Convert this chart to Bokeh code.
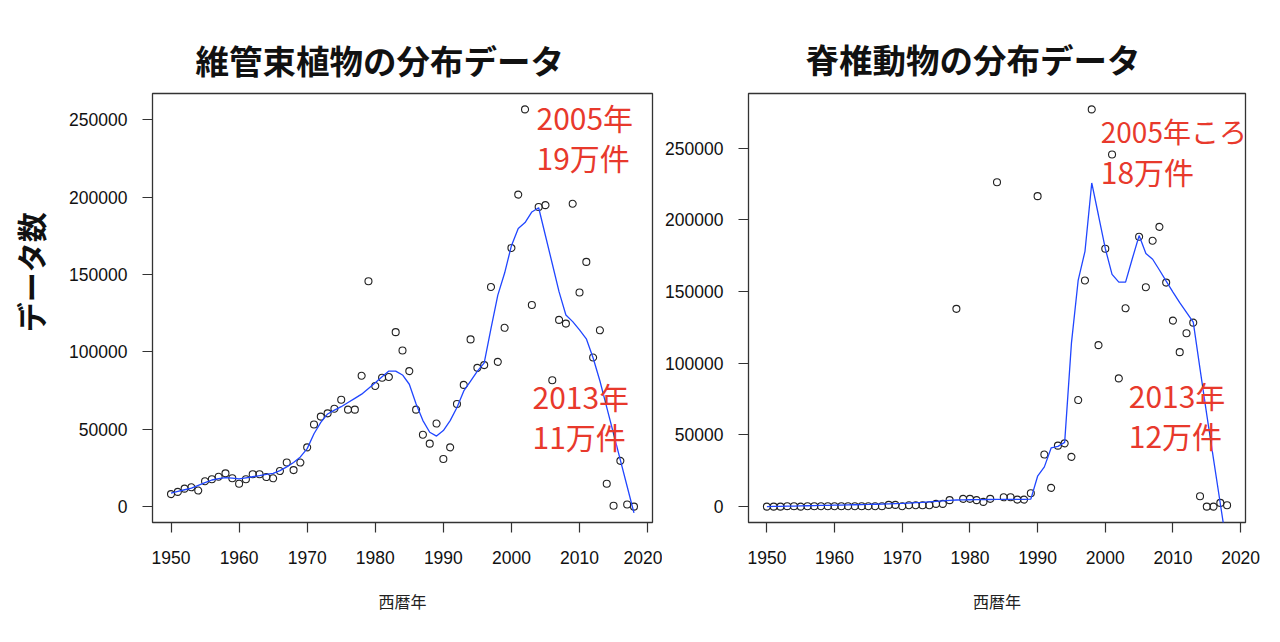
import math
from bokeh.plotting import figure
from bokeh.layouts import row
from bokeh.models import Range1d, FixedTicker, NumeralTickFormatter, Label
from bokeh.embed import file_html
from bokeh.resources import INLINE

# ---------------- data ----------------
years = list(range(1950, 2019))

plant_counts = [
    8100, 9500, 11600, 12500, 10400, 16400, 17700, 19300, 21500, 18300,
    14800, 17700, 20900, 20900, 19100, 18300, 23000, 28500, 23600, 28500,
    38300, 53100, 58200, 60300, 63300, 69100, 62700, 62700, 84600, 145700,
    78000, 83300, 83800, 112800, 100900, 87600, 62700, 46500, 40700, 53700,
    30800, 38300, 66300, 78700, 108100, 89700, 91500, 142000, 93600, 115600,
    167200, 201700, 256800, 130300, 193700, 194900, 81700, 120700, 118300, 195800,
    138400, 158200, 96400, 114000, 14800, 600, 29600, 1400, 0,
]
plant_smooth = [
    8700, 9800, 10900, 11900, 13700, 15500, 17200, 18100, 18700, 18400,
    17900, 18600, 19300, 20000, 20800, 21500, 23300, 25700, 28500, 32100,
    37500, 47100, 54500, 59900, 62400, 64600, 67300, 70000, 72700, 76400,
    80100, 84000, 87600, 87600, 85100, 79100, 66300, 55600, 48100, 45600,
    49200, 55600, 64100, 74800, 81200, 87600, 92900, 115300, 136700, 151000,
    168700, 179800, 183600, 190500, 193200, 175100, 157000, 138800, 123900, 119600,
    114300, 108500, 96100, 81200, 64100, 47100, 30000, 13000, -4100,
]
vert_counts = [
    0, 0, 0, 300, 300, 0, 300, 300, 300, 300,
    300, 300, 300, 300, 300, 300, 300, 300, 1200, 1200,
    300, 1000, 1000, 1000, 1000, 1900, 1900, 4500, 137900, 5400,
    5400, 4500, 3300, 5400, 226200, 6500, 6500, 4900, 4900, 9300,
    216500, 36300, 13100, 42500, 44100, 34700, 74300, 157700, 277000, 112600,
    179800, 245500, 89400, 138300, None, 188200, 153000, 185400, 195100, 156200,
    129700, 107700, 120900, 128300, 7200, 0, 0, 2600, 1000,
]
vert_smooth = [
    0, 100, 200, 300, 400, 500, 600, 700, 800, 900,
    1000, 1100, 1200, 1300, 1400, 1500, 1650, 1800, 1950, 2100,
    2250, 2500, 2750, 3000, 3300, 3600, 4000, 4400, 4600, 4700,
    4800, 4850, 4900, 4950, 5000, 5000, 5050, 5100, 5100, 5200,
    21200, 27700, 40900, 42000, 44800, 114000, 158000, 178000, 225700, 203000,
    180000, 162000, 156500, 156500, 173000, 189000, 176500, 172500, 165000, 157200,
    149600, 142200, 135500, 128700, 96000, 64000, 33000, 2000, -29000,
]

x_ticks = [1950, 1960, 1970, 1980, 1990, 2000, 2010, 2020]
y_ticks = [0, 50000, 100000, 150000, 200000, 250000]

plant_title = "維管束植物の分布データ"
vert_title = "脊椎動物の分布データ"
x_label = "西暦年"
y_label = "データ数"
plant_notes = ["2005年", "19万件", "2013年", "11万件"]
vert_notes = ["2005年ころ", "18万件", "2013年", "12万件"]

# ---------------- styling ----------------
RED = "#E8392C"
BLUE = "#2046FF"
INK = "#222222"
FIG_H = 622
LABEL_W = 60


def r_range(vals):
    v = [a for a in vals if a is not None]
    lo, hi = min(v), max(v)
    pad = (hi - lo) * 0.04
    return lo - pad, hi + pad


def make_panel(counts, smooth, title, title_offset, title_standoff, page_left,
               mbl, fw, mbr, mbt, fh, notes, note_pos, note_sizes):
    xs = [y for y, c in zip(years, counts) if c is not None]
    ys = [c for c in counts if c is not None]
    x0, x1 = r_range(xs)
    y0, y1 = r_range(ys)
    width = mbl + fw + mbr
    p = figure(width=width, height=FIG_H, output_backend="svg", toolbar_location=None,
               x_range=Range1d(x0, x1), y_range=Range1d(y0, y1),
               min_border_left=mbl, min_border_right=mbr, min_border_top=mbt,
               min_border_bottom=FIG_H - mbt - fh)
    p.background_fill_color = "white"
    p.border_fill_color = "white"
    p.xgrid.visible = False
    p.ygrid.visible = False
    p.outline_line_color = "#333333"
    p.outline_line_width = 1.3

    p.scatter(xs, ys, marker="circle", size=7, fill_color=None,
              line_color=INK, line_width=1.1)
    p.line(years, smooth, line_color=BLUE, line_width=1.3)

    p.xaxis.ticker = FixedTicker(ticks=x_ticks)
    p.yaxis.ticker = FixedTicker(ticks=y_ticks)
    p.yaxis.formatter = NumeralTickFormatter(format="0")
    for ax in (p.xaxis, p.yaxis):
        ax.axis_line_color = None
        ax.major_tick_in = 0
        ax.major_tick_out = 10
        ax.major_tick_line_color = "#333333"
        ax.major_tick_line_width = 1.2
        ax.minor_tick_line_color = None
        ax.major_label_text_font = "Liberation Sans"
        ax.major_label_text_font_size = "17.5px"
        ax.major_label_text_color = "#111111"
    p.xaxis.major_label_standoff = 18
    p.yaxis.major_label_standoff = 15
    p.xaxis.axis_label = x_label
    p.xaxis.axis_label_text_font = "Noto Sans CJK JP"
    p.xaxis.axis_label_text_font_style = "normal"
    p.xaxis.axis_label_text_font_size = "16px"
    p.xaxis.axis_label_text_color = "#222222"
    p.xaxis.axis_label_standoff = 22

    p.title.text = title
    p.title.align = "left"
    p.title.offset = title_offset
    p.title.text_font = "Noto Sans CJK JP"
    p.title.text_font_size = "33.5px"
    p.title.text_font_style = "bold"
    p.title.text_color = "#111111"
    p.title.vertical_align = "bottom"
    p.title.standoff = title_standoff

    fl = page_left + mbl
    ft = mbt

    def dx(px):
        return x0 + (px - fl) / fw * (x1 - x0)

    def dy(py):
        return y1 - (py - ft) / fh * (y1 - y0)

    for txt, (px, py), fs in zip(notes, note_pos, note_sizes):
        p.add_layout(Label(x=dx(px), y=dy(py), text=txt, text_color=RED,
                           text_font="Noto Sans CJK JP", text_font_size=fs,
                           text_align="left", text_baseline="middle"))
    return p


# y-axis title strip on the far left
p0 = figure(width=LABEL_W, height=FIG_H, output_backend="svg", toolbar_location=None,
            x_range=Range1d(0, LABEL_W), y_range=Range1d(0, FIG_H),
            x_axis_type=None, y_axis_type=None,
            min_border_left=0, min_border_right=0, min_border_top=0, min_border_bottom=0)
p0.outline_line_color = None
p0.xgrid.visible = False
p0.ygrid.visible = False
p0.add_layout(Label(x=29, y=FIG_H - 346, text=y_label, angle=math.pi / 2,
                    text_font="Noto Sans CJK JP", text_font_size="30px",
                    text_font_style="bold", text_color="#111111",
                    text_align="left", text_baseline="middle"))

mbl1 = 152 - LABEL_W
left_w = mbl1 + 500 + 10
p1 = make_panel(plant_counts, plant_smooth, plant_title, 43, 20, LABEL_W,
                mbl1, 500, 10, 90, 432,
                plant_notes, [(536, 114), (536, 154), (532, 395), (532, 435)],
                ["30px", "30px", "30px", "30px"])
right_left = LABEL_W + left_w
p2 = make_panel(vert_counts, vert_smooth, vert_title, 57, 22, right_left,
                747 - right_left, 498, 15, 93, 430,
                vert_notes, [(1100, 131), (1100, 171), (1128, 395), (1128, 435)],
                ["28px", "30px", "30px", "30px"])

layout = row(p0, p1, p2)
open("out.html", "w").write(file_html(layout, INLINE))
